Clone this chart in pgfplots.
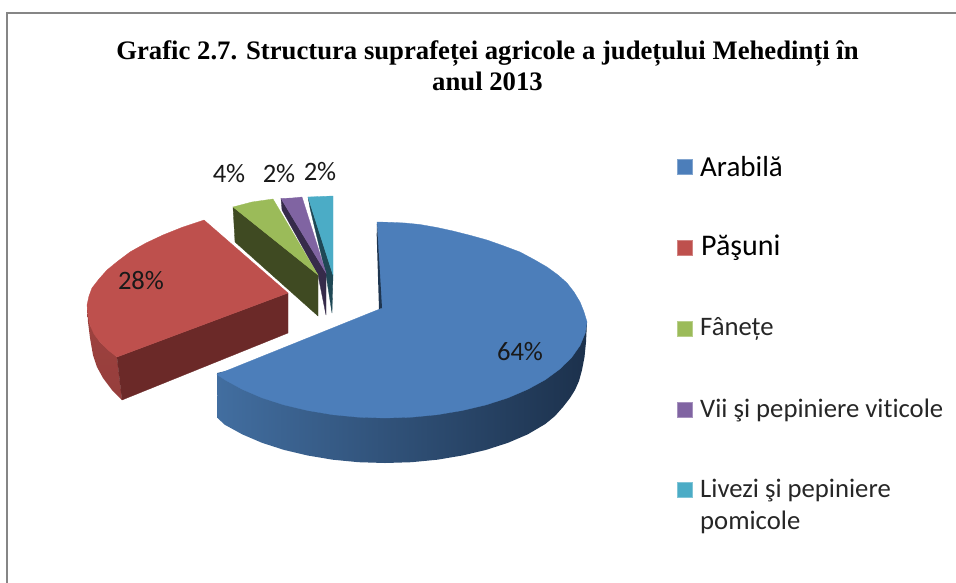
\documentclass[border=0pt]{standalone}
\usepackage{fontspec}
\setmainfont[Ligatures=NoCommon]{Carlito}
\newfontfamily\titlefont{Liberation Serif}
\usepackage{pgfplots}
\pgfplotsset{compat=1.18}
\definecolor{bluetop}{RGB}{76,126,186}
\definecolor{redtop}{RGB}{190,80,77}
\definecolor{greentop}{RGB}{155,187,89}
\definecolor{purpletop}{RGB}{128,100,162}
\definecolor{tealtop}{RGB}{75,172,198}
\definecolor{reddark}{RGB}{107,41,40}
\definecolor{redside}{RGB}{158,66,63}
\definecolor{greendark}{RGB}{63,74,34}
\definecolor{purpledark}{RGB}{54,43,74}
\definecolor{tealdark}{RGB}{31,72,85}
\definecolor{bluedark}{RGB}{30,53,80}
\definecolor{framegray}{RGB}{134,134,134}
\definecolor{labeltext}{RGB}{25,25,25}
\begin{document}
\begin{tikzpicture}
\path[use as bounding box] (0,0) rectangle (956pt,582pt);
\begin{axis}[
  at={(0,0)}, anchor=south west,
  scale only axis, width=956pt, height=582pt,
  xmin=0, xmax=956, ymin=0, ymax=582, y dir=reverse,
  hide axis, clip=true,
  every axis plot/.append style={line width=0.3pt}
]
% frame
\addplot[framegray, line width=2pt] coordinates {(7,600) (7,13) (970,13)};
% blue side
\addplot[draw=none, left color={rgb,255:red,66;green,110;blue,160}, middle color={rgb,255:red,44;green,74;blue,112}, right color={rgb,255:red,28;green,49;blue,76}] coordinates {
(217,373) (217.5,418) (224.7,424.7) (242.2,434.3) (262,442.8) (284,449.9) (307.7,455.5) (332.7,459.7) (358.6,462.2) (385,463) (411.4,462.2) (437.3,459.7) (462.3,455.5) (486,449.9) (508,442.8) (527.8,434.3) (545.3,424) (555,416) (563,407) (570,398) (575,390) (579,381) (582,370) (584.5,357) (586,342) (587,322) (400,330)} --cycle;
% blue top
\addplot[fill=bluetop, draw=bluetop] coordinates {
(377,222) (390,222.3) (405,223) (420,224.5) (437,227.5) (453,231) (470,235.3) (487,240) (504,246) (520,252) (534,259.5) (547,267) (558,275) (567,283) (574,292) (580,302) (584,312) (587,322) (585.3,332.8) (580.1,345.4) (571.6,357.5) (559.9,369) (545.3,379.7) (527.8,389.3) (508,397.8) (486,404.9) (462.3,410.5) (437.3,414.7) (411.4,417.2) (385,418) (358.6,417.2) (332.7,414.7) (307.7,410.5) (284,404.9) (262,397.8) (242.2,389.3) (224.7,379.7) (217,374.5) (381,308.5)} --cycle;
\addplot[fill=bluedark, draw=none] coordinates {(377,224) (376.7,235) (379,309) (382,308)} --cycle;
% red
\addplot[draw=none, top color=redside, bottom color={rgb,255:red,150;green,62;blue,60}] coordinates {
(87,305) (88,322) (90,338) (93,355) (97,367) (103,378) (112,390) (122,400) (117,357) (100,342) (90,325)} --cycle;
\addplot[fill=reddark, draw=reddark] coordinates {(117,357) (288,293) (288,333) (122,400)} --cycle;
\addplot[fill=redtop, draw=redtop] coordinates {
(204,220) (183,227) (163,235) (146,243) (130,252) (118,261) (107,270) (99,279) (92,288) (89,296) (87,305) (88,315) (90,325) (94,334) (100,342) (108,350) (117,357) (288,293)} --cycle;
% teal
\addplot[fill=tealdark, draw=tealdark] coordinates {(308,197) (310,208) (326,275) (332,313) (333,275)} --cycle;
\addplot[fill=tealtop, draw=tealtop] coordinates {(308,197) (320,196.5) (333,196) (333,275)} --cycle;
% purple
\addplot[fill=purpledark, draw=purpledark] coordinates {(281,198.5) (282,210) (318,275) (326,315) (326,273)} --cycle;
\addplot[fill=purpletop, draw=purpletop] coordinates {(281,198.5) (292,198) (302,197) (326,273)} --cycle;
% green
\addplot[fill=greendark, draw=greendark] coordinates {(233,207) (235,242) (318,316) (318,275)} --cycle;
\addplot[fill=greentop, draw=greentop] coordinates {(233,207) (252,202) (273,199) (318,275)} --cycle;
% legend keys
\addplot[only marks, mark=square*, mark size=7.4pt, mark options={fill=bluetop, draw=bluetop!70!white}] coordinates {(685,167)};
\addplot[only marks, mark=square*, mark size=7.4pt, mark options={fill=redtop, draw=redtop!70!white}] coordinates {(685,248)};
\addplot[only marks, mark=square*, mark size=7.4pt, mark options={fill=greentop, draw=greentop!70!white}] coordinates {(685,329)};
\addplot[only marks, mark=square*, mark size=7.4pt, mark options={fill=purpletop, draw=purpletop!70!white}] coordinates {(685,410)};
\addplot[only marks, mark=square*, mark size=7.4pt, mark options={fill=tealtop, draw=tealtop!70!white}] coordinates {(685,490)};
% title
\node[font=\titlefont\bfseries\fontsize{26.7}{31}\selectfont, align=center, anchor=center] at (axis cs:487.5,66) {Grafic 2.7. Structura suprafeței agricole a județului Mehedinți în\\anul 2013};
% percent labels
\node[text=labeltext, font=\fontsize{26.6}{30}\selectfont] at (axis cs:520,352) {64\%};
\node[text=labeltext, font=\fontsize{26.6}{30}\selectfont] at (axis cs:141,281) {28\%};
\node[text=labeltext, font=\fontsize{26.6}{30}\selectfont] at (axis cs:229,174) {4\%};
\node[text=labeltext, font=\fontsize{26.6}{30}\selectfont] at (axis cs:279,174) {2\%};
\node[text=labeltext, font=\fontsize{26.6}{30}\selectfont] at (axis cs:320,172) {2\%};
% legend text
\node[anchor=west, inner sep=0pt, font=\fontsize{29}{34}\selectfont] at (axis cs:700,167) {Arabilă};
\node[anchor=west, inner sep=0pt, font=\fontsize{30}{34}\selectfont] at (axis cs:701,248) {Păşuni};
\node[anchor=west, inner sep=0pt, font=\fontsize{26.7}{32}\selectfont, text=black!85] at (axis cs:700,329) {Fânețe};
\node[anchor=west, inner sep=0pt, font=\fontsize{26.7}{32}\selectfont, text=black!85] at (axis cs:700,410) {Vii şi pepiniere viticole};
\node[anchor=west, inner sep=0pt, font=\fontsize{26.7}{32}\selectfont, text=black!85, align=left] at (axis cs:700,506) {Livezi şi pepiniere\\pomicole};
\end{axis}
\end{tikzpicture}
\end{document}
